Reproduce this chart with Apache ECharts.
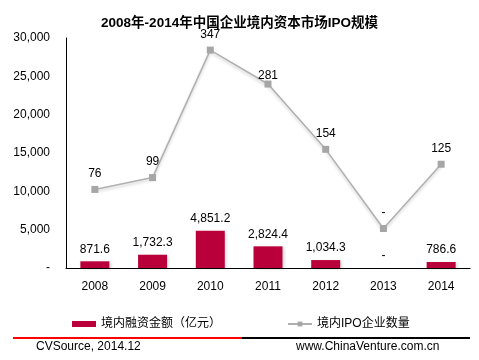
<!DOCTYPE html>
<html><head><meta charset="utf-8">
<script src="https://cdn.jsdelivr.net/npm/echarts@6/dist/echarts.min.js"></script>
<style>html,body{margin:0;padding:0;background:#fff}#c{width:479px;height:360px}</style>
</head><body><div id="c"></div>
<script>
const years = ['2008','2009','2010','2011','2012','2013','2014'];
const financing = [871.6, 1732.3, 4851.2, 2824.4, 1034.3, 0, 786.6];
const ipoCount = [76, 99, 347, 281, 154, 0, 125];
const leftTicks = [0, 5000, 10000, 15000, 20000, 25000, 30000];
const titleText = '2008年-2014年中国企业境内资本市场IPO规模';
const seriesNames = ['境内融资金额（亿元）', '境内IPO企业数量'];
const sourceText = 'CVSource, 2014.12';
const siteText = 'www.ChinaVenture.com.cn';

const fmt = v => v === 0 ? '-' : v.toLocaleString('en-US');
const fmt1 = v => v === 0 ? '-' : v.toLocaleString('en-US', {minimumFractionDigits:1, maximumFractionDigits:1});
const font = 'Arial, "Liberation Sans", "Noto Sans CJK SC", sans-serif';

const chart = echarts.init(document.getElementById('c'));
chart.setOption({
  animation: false,
  textStyle: {fontFamily: font},
  title: {text: titleText, left: 'center', top: 12,
    textStyle: {fontSize: 13.5, fontWeight: 'bold', color: '#000', fontFamily: font}},
  grid: {left: 66, right: 9, top: 38, bottom: 92},
  legend: {left: 72, top: 318, padding: 0, itemGap: 66, itemWidth: 24, itemHeight: 6,
    textStyle: {fontSize: 12, color: '#000', fontFamily: font},
    data: [{name: seriesNames[0], icon: 'rect'}, {name: seriesNames[1]}]},
  xAxis: {type: 'category', data: years,
    axisLine: {lineStyle: {color: '#000', width: 1}}, axisTick: {show: false},
    axisLabel: {color: '#000', fontSize: 12, margin: 13}},
  yAxis: [{type: 'value', min: leftTicks[0], max: leftTicks[leftTicks.length-1], interval: 5000,
    axisLine: {show: true, lineStyle: {color: '#000'}}, axisTick: {show: false},
    splitLine: {show: false},
    axisLabel: {color: '#000', fontSize: 12, margin: 16, formatter: fmt}},
    {type: 'value', min: -76.8, max: 370.5, show: false, splitLine: {show: false}}],
  series: [
    {name: seriesNames[0], type: 'bar', data: financing, barWidth: 29, yAxisIndex: 0,
      itemStyle: {color: '#b9003a', shadowColor: 'rgba(0,0,0,0.15)', shadowBlur: 3, shadowOffsetX: 2, shadowOffsetY: 1},
      label: {show: true, position: 'top', distance: 6, color: '#000', fontSize: 12, formatter: p => fmt1(p.value)}},
    {name: seriesNames[1], type: 'line', yAxisIndex: 1,
      data: ipoCount.map((v, i) => i === 3 ? {value: v, label: {distance: -1}} : v),
      symbol: 'rect', symbolSize: 7,
      lineStyle: {color: '#b0b0b0', width: 1.5, shadowColor: 'rgba(0,0,0,0.2)', shadowBlur: 3, shadowOffsetY: 2},
      itemStyle: {color: '#a6a6a6'},
      label: {show: true, position: 'top', distance: 6, color: '#000', fontSize: 12, formatter: p => fmt(p.value)}}
  ],
  graphic: [
    {type: 'rect', shape: {x: 13, y: 337, width: 229, height: 2}, style: {fill: '#ff0000'}},
    {type: 'rect', shape: {x: 242, y: 337, width: 228, height: 2}, style: {fill: '#000'}},
    {type: 'text', left: 36, top: 341, style: {text: sourceText, fill: '#000', font: '12px ' + font}},
    {type: 'text', left: 296, top: 341, style: {text: siteText, fill: '#000', font: '12px ' + font}}
  ]
});
</script></body></html>
